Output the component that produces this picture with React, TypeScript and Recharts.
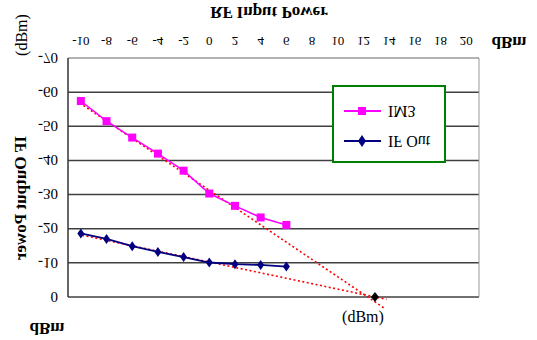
import React from 'react';
import {
  ComposedChart,
  Line,
  Scatter,
  XAxis,
  YAxis,
  ReferenceLine,
} from 'recharts';

// RF input power (dBm)
const rfInput = [-10, -8, -6, -4, -2, 0, 2, 4, 6];
// IM3 output (dBm)
const im3Values = [-57.4, -51.5, -46.7, -42.0, -37.0, -30.3, -26.7, -23.3, -21.1];
// IF output (dBm)
const ifOutValues = [-18.6, -17.0, -14.9, -13.2, -11.7, -10.1, -9.6, -9.4, -8.9];
// Extrapolated fit lines (start / end points)
const im3Fit = [
  { x: -9.8, y: -56.1 },
  { x: 13.6, y: 3.2 },
];
const ifFit = [
  { x: -9.9, y: -18.1 },
  { x: 13.8, y: 0.7 },
];
// Third-order intercept point
const ip3Point = [{ x: 12.9, y: 0 }];

const xTicks = [-10, -8, -6, -4, -2, 0, 2, 4, 6, 8, 10, 12, 14, 16, 18, 20];
const yTicks = [-70, -60, -50, -40, -30, -20, -10, 0];
const gridValues = [-60, -50, -40, -30, -20, -10, 0];

const chartData = rfInput.map((x, i) => ({ x, im3: im3Values[i], ifOut: ifOutValues[i] }));

const SERIF = '"Liberation Serif", "Times New Roman", serif';
const MAGENTA = '#FF00FF';
const NAVY = '#000080';

const SquareDot = (p: any) => {
  if (p.cx == null || p.cy == null) return <g key={p.key} />;
  return <rect key={p.key} x={p.cx - 4} y={p.cy - 4} width={8} height={8} fill={MAGENTA} />;
};

const DiamondDot = (p: any) => {
  if (p.cx == null || p.cy == null) return <g key={p.key} />;
  const { cx, cy } = p;
  return (
    <polygon
      key={p.key}
      points={`${cx},${cy - 5} ${cx + 3.5},${cy} ${cx},${cy + 5} ${cx - 3.5},${cy}`}
      fill={NAVY}
    />
  );
};

const BlackDiamond = (p: any) => {
  const { cx, cy } = p;
  return (
    <polygon
      points={`${cx},${cy - 5} ${cx + 4},${cy} ${cx},${cy + 5} ${cx - 4},${cy}`}
      fill="#000"
    />
  );
};

const legendItems = [
  { name: 'IF Out', color: NAVY, marker: 'diamond' },
  { name: 'IM3', color: MAGENTA, marker: 'square' },
];

const LegendBox = () => (
  <div
    style={{
      position: 'absolute',
      left: 332,
      top: 177,
      width: 110,
      height: 74,
      border: '2px solid #008000',
      background: '#fff',
      fontFamily: SERIF,
      fontSize: 16,
    }}
  >
    {legendItems.map((it, i) => (
      <div
        key={it.name}
        style={{ position: 'absolute', left: 0, top: 10 + i * 30, height: 20, width: 110 }}
      >
        <svg width={50} height={20} style={{ position: 'absolute', left: 6, top: 0 }}>
          <line x1={4} y1={10} x2={41} y2={10} stroke={it.color} strokeWidth={2} />
          {it.marker === 'square' ? (
            <rect x={18} y={6} width={8} height={8} fill={it.color} />
          ) : (
            <polygon points="22,4 26,10 22,16 18,10" fill={it.color} />
          )}
        </svg>
        <span style={{ position: 'absolute', left: 54, top: 0, lineHeight: '20px', color: '#000' }}>
          {it.name}
        </span>
      </div>
    ))}
  </div>
);

const textStyle: React.CSSProperties = {
  position: 'absolute',
  fontFamily: SERIF,
  color: '#000',
  whiteSpace: 'nowrap',
  lineHeight: 1,
};

export default function App() {
  return (
    <div style={{ position: 'absolute', left: 0, top: 0, width: 537, height: 340, background: '#fff', overflow: 'hidden' }}>
      <div style={{ position: 'absolute', left: 0, top: 0, width: 537, height: 340, transform: 'scaleY(-1)' }}>
        <ComposedChart
          width={537}
          height={340}
          data={chartData}
          margin={{ top: 43, right: 58, bottom: 38, left: 8 }}
        >
          <XAxis
            dataKey="x"
            type="number"
            domain={[-11, 21]}
            ticks={xTicks}
            allowDataOverflow
            tickLine={false}
            tickSize={0}
            tickMargin={12}
            height={20}
            axisLine={{ stroke: '#666', strokeWidth: 1 }}
            tick={{ fontFamily: SERIF, fontSize: 13, fill: '#000' }}
          />
          <YAxis
            type="number"
            domain={[-70, 0]}
            ticks={yTicks}
            width={60}
            tickLine={false}
            tickSize={0}
            tickMargin={10}
            axisLine={{ stroke: '#333', strokeWidth: 1.5 }}
            tick={{ fontFamily: SERIF, fontSize: 15, fill: '#000' }}
          />
          {gridValues.map((v) => (
            <ReferenceLine key={v} y={v} stroke="#404040" strokeWidth={1.5} />
          ))}
          <ReferenceLine x={21} stroke="#999" strokeWidth={1} />
          <ReferenceLine
            segment={im3Fit}
            stroke="#FF0000"
            strokeWidth={1.6}
            strokeDasharray="2 2.5"
            ifOverflow="visible"
          />
          <ReferenceLine
            segment={ifFit}
            stroke="#FF0000"
            strokeWidth={1.6}
            strokeDasharray="2 2.5"
            ifOverflow="visible"
          />
          <Line
            dataKey="im3"
            stroke={MAGENTA}
            strokeWidth={1.5}
            dot={SquareDot}
            activeDot={false}
            isAnimationActive={false}
          />
          <Line
            dataKey="ifOut"
            stroke={NAVY}
            strokeWidth={1.8}
            dot={DiamondDot}
            activeDot={false}
            isAnimationActive={false}
          />
          <Scatter data={ip3Point} dataKey="y" shape={BlackDiamond} isAnimationActive={false} />
        </ComposedChart>
        <LegendBox />
        <div style={{ ...textStyle, left: 269, top: 328, transform: 'translate(-50%, -50%)', fontSize: 17, fontWeight: 'bold' }}>
          RF Input Power
        </div>
        <div style={{ ...textStyle, left: 20, top: 142, transform: 'translate(-50%, -50%) rotate(-90deg)', fontSize: 17, fontWeight: 'bold' }}>
          IF Output Power
        </div>
        <div style={{ ...textStyle, left: 509, top: 298, transform: 'translate(-50%, -50%)', fontSize: 17, fontWeight: 'bold' }}>
          dBm
        </div>
        <div style={{ ...textStyle, left: 47, top: 12, transform: 'translate(-50%, -50%)', fontSize: 17, fontWeight: 'bold' }}>
          dBm
        </div>
      </div>
      <div style={{ ...textStyle, left: 22, top: 35, transform: 'translate(-50%, -50%) rotate(-90deg)', fontSize: 16 }}>
        (dBm)
      </div>
      <div style={{ ...textStyle, left: 363, top: 317, transform: 'translate(-50%, -50%)', fontSize: 16 }}>
        (dBm)
      </div>
    </div>
  );
}
